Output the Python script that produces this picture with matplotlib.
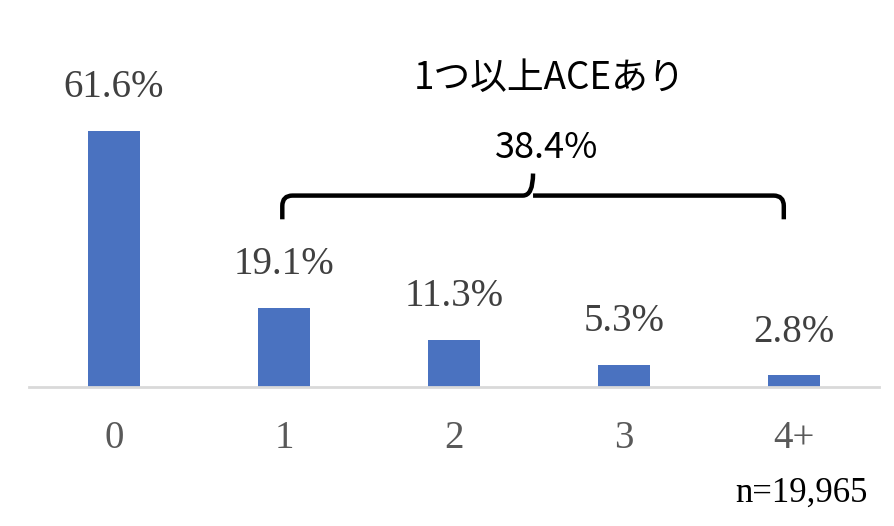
import matplotlib.pyplot as plt
from matplotlib.path import Path
from matplotlib.patches import PathPatch

# データ
categories = ["0", "1", "2", "3", "4+"]
values = [61.6, 19.1, 11.3, 5.3, 2.8]
group_label = "1つ以上ACEあり"
group_value = "38.4%"
n_label = "n=19,965"

bar_color = "#4a72c0"
serif = ["Liberation Serif", "DejaVu Serif"]
sans = ["Noto Sans CJK JP", "DejaVu Sans"]

fig = plt.figure(figsize=(8.94, 5.26), dpi=100)
ax = fig.add_axes([29 / 894, 139 / 526, 850 / 894, 387 / 526])

x = list(range(len(categories)))
ax.bar(x, values, width=0.31, color=bar_color, zorder=2)
ax.set_xlim(-0.5, len(categories) - 0.5)
ax.set_ylim(0, 93)

# 値ラベル
for xi, v in zip(x, values):
    ax.annotate(f"{v:.1f}%", (xi, v), xytext=(0, 31), textcoords="offset points",
                ha="center", va="center", fontsize=28, family=serif, color="#404040")

# 軸
for s in ["top", "right", "left"]:
    ax.spines[s].set_visible(False)
ax.spines["bottom"].set_color("#d9d9d9")
ax.spines["bottom"].set_linewidth(2)
ax.set_yticks([])
ax.set_xticks(x)
ax.set_xticklabels(categories, family=serif, fontsize=28, color="#595959")
ax.tick_params(axis="x", length=0, pad=24)

# 括弧 (1〜4+)
x0, x1 = 0.99, 3.94
xm = (x0 + x1) / 2
y_low, y_mid, y_top = 40.3, 46.0, 51.3
r = 0.06
dy = 2.5
verts = [
    (x0, y_low), (x0, y_mid - dy), (x0, y_mid), (x0 + r, y_mid),
    (xm - r, y_mid), (xm, y_mid), (xm, y_top),
    (xm, y_mid), (xm + r, y_mid),
    (x1 - r, y_mid), (x1, y_mid), (x1, y_mid - dy), (x1, y_low),
]
codes = [
    Path.MOVETO, Path.LINETO, Path.CURVE3, Path.CURVE3,
    Path.LINETO, Path.CURVE3, Path.CURVE3,
    Path.MOVETO, Path.CURVE3,
    Path.LINETO, Path.CURVE3, Path.CURVE3, Path.LINETO,
]
ax.add_patch(PathPatch(Path(verts, codes), fill=False, lw=3.2, color="black",
                       capstyle="butt", joinstyle="round"))

ax.text(xm + 0.1, 74.2, group_label, ha="center", va="center", fontsize=26.5,
        family=sans, color="black")
ax.text(xm + 0.08, 57.5, group_value, ha="center", va="center", fontsize=26,
        family=sans, color="black")

fig.text(868 / 894, 1 - 493 / 526, n_label, ha="right", va="center",
         fontsize=25, family=serif, color="black")

fig.savefig("out.png", dpi=100)
